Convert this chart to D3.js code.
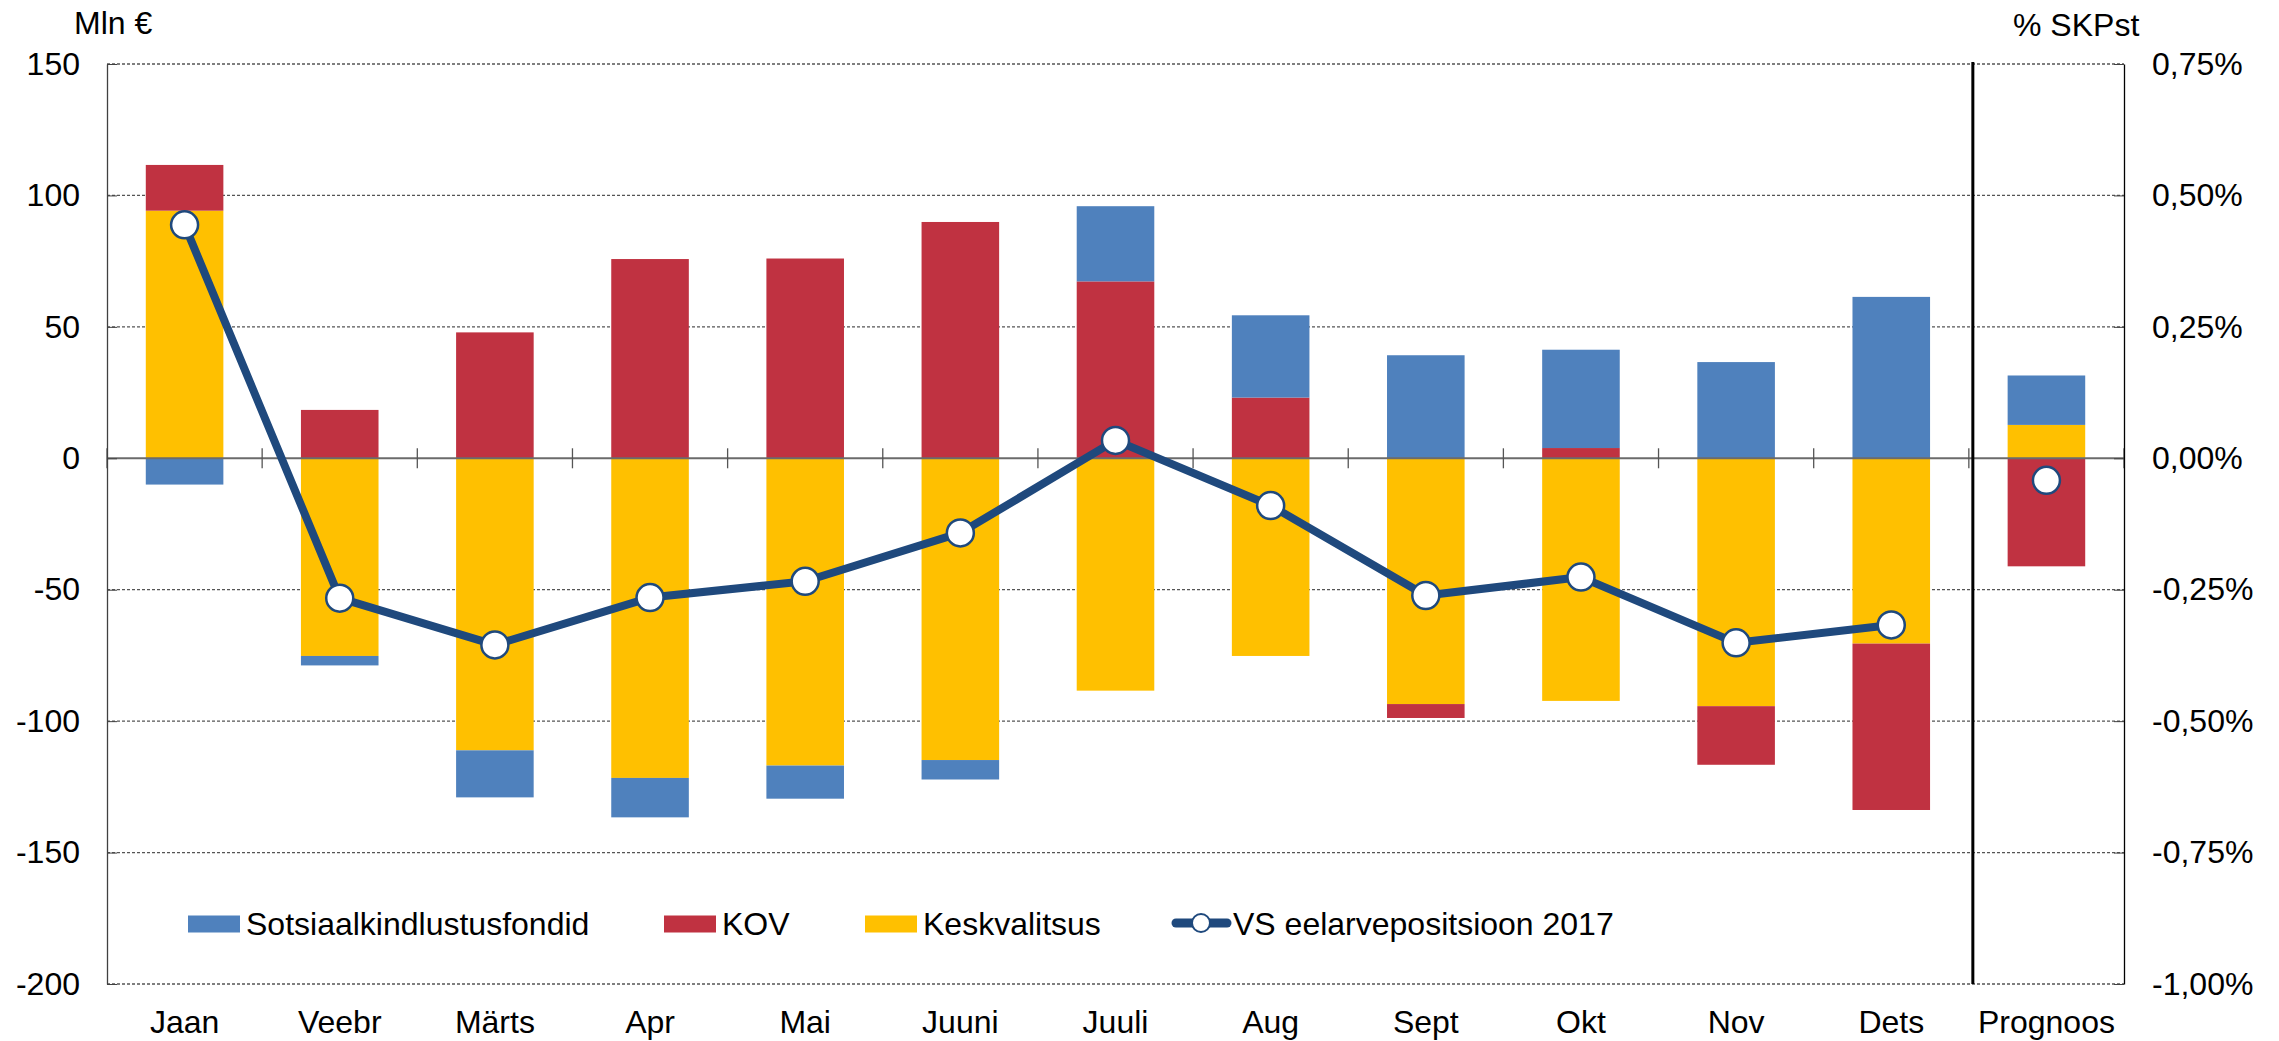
<!DOCTYPE html>
<html>
<head>
<meta charset="utf-8">
<script src="https://cdn.jsdelivr.net/npm/d3@7"></script>
<style>
  html, body { margin: 0; padding: 0; background: #fff; }
  svg { display: block; font-family: "Liberation Sans", Arial, sans-serif; }
</style>
</head>
<body>
<svg id="chart" width="2279" height="1041"></svg>
<script>
// ---- Data ----
const categories = ["Jaan","Veebr","Märts","Apr","Mai","Juuni","Juuli","Aug","Sept","Okt","Nov","Dets","Prognoos"];
const sotsiaal   = [-10.0, -3.6, -17.9, -15.0, -12.6, -7.4, 28.6, 31.3, 39.2, 37.4, 36.6, 61.4, 18.8];
const kov        = [17.4, 18.4, 47.9, 75.8, 76.0, 89.9, 67.3, 23.1, -5.3, 3.9, -22.3, -63.3, -41.1];
const keskvalitsus = [94.2, -75.2, -111.1, -121.6, -116.9, -114.8, -88.4, -75.2, -93.5, -92.3, -94.3, -70.5, 12.7];
const vsPosition = [0.444, -0.266, -0.355, -0.265, -0.234, -0.142, 0.034, -0.090, -0.261, -0.226, -0.351, -0.317, -0.042];
const leftTicks  = [-200, -150, -100, -50, 0, 50, 100, 150];
const rightTicks = [-1.0, -0.75, -0.5, -0.25, 0, 0.25, 0.5, 0.75];
const seriesNames = ["Sotsiaalkindlustusfondid", "KOV", "Keskvalitsus"];
const lineName = "VS eelarvepositsioon 2017";

// ---- Styles ----
const colors = { "Sotsiaalkindlustusfondid": "#4F81BD", "KOV": "#C03241", "Keskvalitsus": "#FFC000" };
const lineColor = "#1F497D";
const fontSize = 32;

const svg = d3.select("#chart");
const plot = { left: 107, right: 2124, top: 64, bottom: 984 };

const x = d3.scaleBand().domain(categories)
  .range([plot.left, plot.right]).paddingInner(0.5).paddingOuter(0.25);
const y = d3.scaleLinear().domain([-200, 150]).range([plot.bottom, plot.top]);
const y2 = d3.scaleLinear().domain([-1, 0.75]).range([plot.bottom, plot.top]);

const fixMinus = s => s.replace("\u2212", "-");

// gridlines (dotted), except zero
svg.append("g").selectAll("line")
  .data(leftTicks.filter(d => d !== 0))
  .join("line")
  .attr("x1", plot.left).attr("x2", plot.right)
  .attr("y1", d => y(d)).attr("y2", d => y(d))
  .attr("stroke", "#555").attr("stroke-width", 1.3)
  .attr("stroke-dasharray", "3,2");

// stacked bars
const rows = categories.map((c, i) => ({
  cat: c,
  "Keskvalitsus": keskvalitsus[i],
  "KOV": kov[i],
  "Sotsiaalkindlustusfondid": sotsiaal[i]
}));
const stack = d3.stack()
  .keys(["Keskvalitsus", "KOV", "Sotsiaalkindlustusfondid"])
  .offset(d3.stackOffsetDiverging);
const stacked = stack(rows);

svg.append("g").selectAll("g")
  .data(stacked)
  .join("g")
  .attr("fill", s => colors[s.key])
  .selectAll("rect")
  .data(s => s)
  .join("rect")
  .attr("x", d => x(d.data.cat))
  .attr("width", x.bandwidth())
  .attr("y", d => y(Math.max(d[0], d[1])))
  .attr("height", d => Math.abs(y(d[0]) - y(d[1])));

// zero line
svg.append("line")
  .attr("x1", plot.left).attr("x2", plot.right)
  .attr("y1", y(0)).attr("y2", y(0))
  .attr("stroke", "#6b6b6b").attr("stroke-width", 2);

// category boundary ticks
svg.append("g").selectAll("line")
  .data(d3.range(0, categories.length + 1))
  .join("line")
  .attr("x1", k => plot.left + k * x.step())
  .attr("x2", k => plot.left + k * x.step())
  .attr("y1", y(0) - 10).attr("y2", y(0) + 10)
  .attr("stroke", "#555").attr("stroke-width", 1.3);

// left axis
const gl = svg.append("g")
  .attr("transform", `translate(${plot.left},0)`)
  .call(d3.axisLeft(y).tickValues(leftTicks).tickSize(-10).tickSizeOuter(0)
    .tickPadding(27).tickFormat(d => fixMinus(d3.format("d")(d))));
gl.select(".domain").attr("stroke", "#404040").attr("stroke-width", 1.3);
gl.selectAll(".tick line").attr("stroke", "#404040");
gl.selectAll("text").attr("font-size", fontSize).attr("fill", "#000")
  .attr("font-family", "Liberation Sans, Arial, sans-serif");

// right axis
const gr = svg.append("g")
  .attr("transform", `translate(${plot.right},0)`)
  .call(d3.axisRight(y2).tickValues(rightTicks).tickSize(-10).tickSizeOuter(0)
    .tickPadding(28).tickFormat(d => fixMinus(d3.format(".2f")(d)).replace(".", ",") + "%"));
gr.select(".domain").attr("stroke", "#000").attr("stroke-width", 1.3);
gr.selectAll(".tick line").attr("stroke", "#404040");
gr.selectAll("text").attr("font-size", fontSize).attr("fill", "#000")
  .attr("font-family", "Liberation Sans, Arial, sans-serif");

// bottom category labels
const gb = svg.append("g")
  .attr("transform", `translate(0,${plot.bottom})`)
  .call(d3.axisBottom(x).tickSize(0).tickPadding(26));
gb.select(".domain").remove();
gb.selectAll("text").attr("font-size", fontSize).attr("fill", "#000")
  .attr("font-family", "Liberation Sans, Arial, sans-serif");

// separator before forecast
const sepX = plot.left + (categories.length - 1) * x.step() + 4;
svg.append("line")
  .attr("x1", sepX).attr("x2", sepX)
  .attr("y1", plot.top - 2).attr("y2", plot.bottom)
  .attr("stroke", "#000").attr("stroke-width", 3);

// line series (months only connected)
const cx = c => x(c) + x.bandwidth() / 2;
const pts = categories.map((c, i) => ({ c, v: vsPosition[i] }));
svg.append("path")
  .datum(pts.slice(0, 12))
  .attr("fill", "none")
  .attr("stroke", lineColor)
  .attr("stroke-width", 8)
  .attr("stroke-linejoin", "round")
  .attr("d", d3.line().x(d => cx(d.c)).y(d => y2(d.v)));
svg.append("g").selectAll("circle")
  .data(pts)
  .join("circle")
  .attr("cx", d => cx(d.c))
  .attr("cy", d => y2(d.v))
  .attr("r", 13.5)
  .attr("fill", "#fff")
  .attr("stroke", lineColor)
  .attr("stroke-width", 2.5);

// axis titles
svg.append("text").attr("x", 74).attr("y", 34)
  .attr("font-size", fontSize).text("Mln €");
svg.append("text").attr("x", 2013).attr("y", 36)
  .attr("font-size", fontSize).text("% SKPst");

// legend
const legendY = 924;
const legendItems = [
  { name: seriesNames[0], x: 188 },
  { name: seriesNames[1], x: 664 },
  { name: seriesNames[2], x: 865 }
];
const lg = svg.append("g");
legendItems.forEach(it => {
  lg.append("rect").attr("x", it.x).attr("y", legendY - 8.5)
    .attr("width", 52).attr("height", 17).attr("fill", colors[it.name]);
  lg.append("text").attr("x", it.x + 58).attr("y", legendY + 11)
    .attr("font-size", fontSize).text(it.name);
});
lg.append("line").attr("x1", 1176).attr("x2", 1227)
  .attr("y1", legendY - 1).attr("y2", legendY - 1)
  .attr("stroke", lineColor).attr("stroke-width", 9).attr("stroke-linecap", "round");
lg.append("circle").attr("cx", 1201).attr("cy", legendY - 1).attr("r", 9)
  .attr("fill", "#fff").attr("stroke", lineColor).attr("stroke-width", 2);
lg.append("text").attr("x", 1233).attr("y", legendY + 11)
  .attr("font-size", fontSize).text(lineName);
</script>
</body>
</html>
